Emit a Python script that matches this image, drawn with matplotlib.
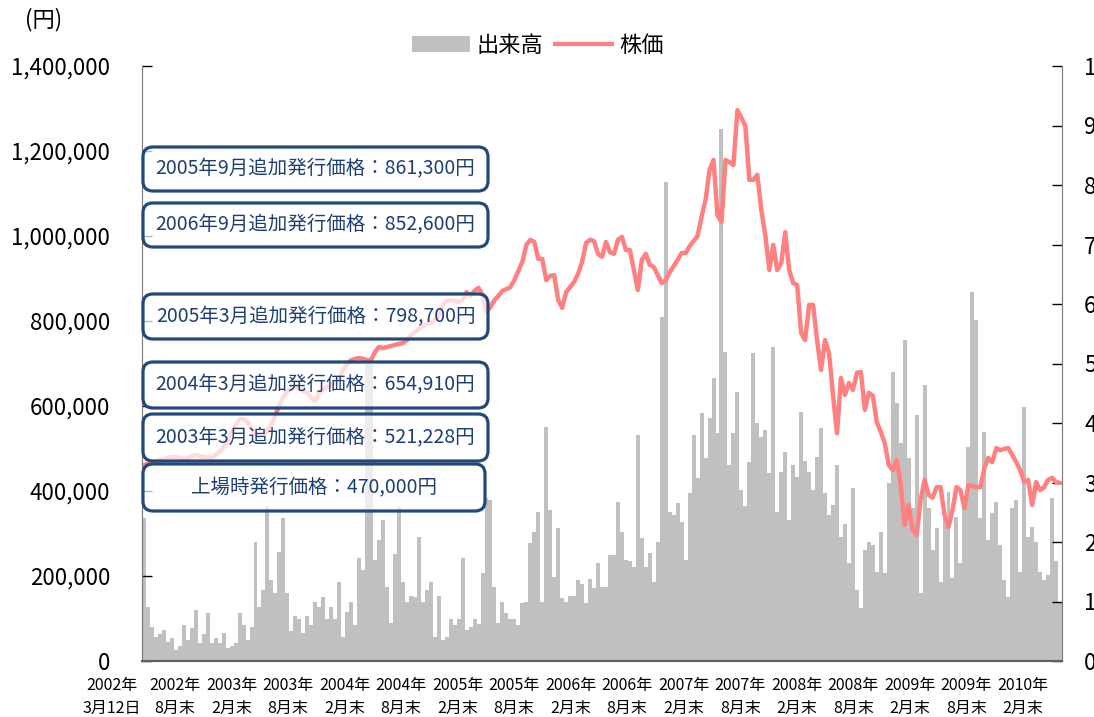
import numpy as np
import matplotlib
matplotlib.use('Agg')
import matplotlib.pyplot as plt
from matplotlib.patches import FancyBboxPatch, Patch
from matplotlib.lines import Line2D
from matplotlib.ticker import FuncFormatter
from matplotlib.transforms import blended_transform_factory

plt.rcParams['font.family'] = ['Noto Sans CJK JP', 'DejaVu Sans']

# Weekly-sampled volume (right axis, 0-10)
volume = [
    2.4, 0.9, 0.57, 0.4, 0.45, 0.52, 0.32, 0.38, 0.18, 0.25,
    0.6, 0.35, 0.55, 0.85, 0.3, 0.45, 0.8, 0.3, 0.38, 0.3,
    0.47, 0.22, 0.25, 0.3, 0.8, 0.6, 0.35, 0.57, 2.0, 0.9,
    1.2, 2.6, 1.36, 1.14, 1.84, 2.4, 1.14, 0.5, 0.75, 0.7,
    0.47, 0.75, 0.6, 1.0, 0.9, 1.08, 0.7, 0.9, 0.7, 1.33,
    0.4, 0.82, 1.0, 0.6, 1.73, 1.53, 5.0, 5.0, 1.7, 2.03,
    2.37, 1.25, 0.64, 1.8, 2.6, 1.33, 1.0, 1.1, 1.08, 2.08,
    1.0, 1.2, 1.33, 0.4, 1.1, 0.35, 0.4, 0.7, 0.6, 0.7,
    1.73, 0.52, 0.57, 0.7, 0.62, 1.48, 2.74, 2.7, 1.25, 0.64,
    1.0, 0.8, 0.7, 0.7, 0.6, 0.97, 1.0, 1.98, 2.17, 2.5,
    1.0, 3.93, 2.53, 1.41, 2.24, 1.06, 1.0, 1.1, 1.1, 1.36,
    1.3, 0.97, 1.38, 1.23, 1.65, 1.25, 1.25, 1.78, 1.78, 2.67,
    2.17, 1.7, 1.68, 1.58, 3.8, 2.07, 1.58, 1.81, 1.33, 2.0,
    5.78, 8.05, 2.5, 2.45, 2.65, 2.33, 1.7, 2.82, 3.8, 3.08,
    4.17, 3.41, 4.08, 4.76, 3.83, 8.94, 5.19, 3.3, 3.83, 4.52,
    2.87, 2.6, 3.35, 5.18, 4.0, 3.77, 3.88, 3.16, 5.28, 2.5,
    3.18, 3.51, 2.37, 3.3, 3.09, 4.18, 3.36, 3.18, 2.87, 3.43,
    3.92, 2.82, 2.45, 2.62, 3.3, 2.08, 2.31, 1.65, 2.91, 1.2,
    0.89, 1.87, 2.0, 1.95, 1.5, 2.17, 1.48, 3.0, 4.86, 4.34,
    3.66, 5.4, 3.41, 2.57, 4.13, 1.14, 4.64, 2.57, 1.87, 2.24,
    1.33, 2.4, 2.84, 1.39, 2.42, 1.65, 2.57, 3.6, 6.2, 5.73,
    2.4, 3.85, 2.03, 2.49, 2.67, 1.95, 1.36, 1.08, 2.57, 2.7,
    1.5, 4.27, 2.08, 2.25, 2.0, 1.5, 1.36, 1.45, 2.74, 1.68,
    1.0,
]

# Weekly-sampled share price (thousand yen, left axis)
price_k = [
    461, 464, 468, 471, 473, 475, 478, 480, 480, 478,
    475, 478, 482, 485, 482, 480, 480, 478, 485, 492,
    504, 518, 539, 555, 569, 569, 562, 548, 534, 529,
    532, 541, 558, 579, 602, 621, 635, 642, 645, 640,
    635, 631, 619, 612, 631, 640, 645, 649, 654, 664,
    685, 699, 708, 711, 713, 711, 708, 708, 727, 739,
    736, 739, 741, 744, 746, 748, 755, 767, 774, 781,
    788, 793, 795, 802, 812, 838, 847, 849, 847, 845,
    849, 868, 859, 871, 878, 861, 821, 833, 849, 859,
    871, 875, 880, 896, 918, 939, 979, 991, 986, 946,
    946, 896, 906, 908, 849, 831, 868, 880, 892, 911,
    939, 984, 991, 988, 958, 951, 986, 962, 958, 991,
    998, 967, 967, 920, 873, 944, 958, 932, 927, 908,
    889, 896, 915, 929, 944, 960, 960, 976, 988, 1000,
    1045, 1085, 1155, 1179, 1049, 1033, 1179, 1174, 1167, 1296,
    1278, 1259, 1132, 1132, 1144, 1061, 1002, 920, 979, 920,
    936, 1009, 920, 889, 885, 772, 755, 838, 838, 755,
    685, 755, 725, 626, 536, 666, 626, 654, 638, 678,
    680, 591, 631, 624, 562, 539, 513, 461, 449, 473,
    414, 320, 367, 308, 296, 379, 426, 391, 384, 409,
    409, 344, 315, 355, 409, 402, 360, 414, 412, 409,
    409, 454, 478, 468, 501, 496, 499, 501, 485, 468,
    449, 421, 426, 367, 421, 402, 409, 426, 431, 421,
    419,
]

x_labels = ['2002年\n3月12日', '2002年\n8月末', '2003年\n2月末', '2003年\n8月末',
            '2004年\n2月末', '2004年\n8月末', '2005年\n2月末', '2005年\n8月末',
            '2006年\n2月末', '2006年\n8月末', '2007年\n2月末', '2007年\n8月末',
            '2008年\n2月末', '2008年\n8月末', '2009年\n2月末', '2009年\n8月末',
            '2010年\n2月末']

notes = ['2005年9月追加発行価格：861,300円',
         '2006年9月追加発行価格：852,600円',
         '2005年3月追加発行価格：798,700円',
         '2004年3月追加発行価格：654,910円',
         '2003年3月追加発行価格：521,228円',
         '上場時発行価格：470,000円']

W, H = 1094, 717
fig = plt.figure(figsize=(W / 100, H / 100), dpi=100)
ax_v = fig.add_axes([142 / W, 56 / H, 920 / W, 595 / H])
ax_p = ax_v.twinx()

n = len(volume)
xv = np.arange(n)
xp = np.arange(len(price_k))
price = np.array(price_k) * 1000

ax_v.bar(xv, volume, width=1.0, color='#C0C0C0', linewidth=0, align='center')
ax_p.plot(xp, price, color='#FF8080', lw=3.2, solid_joinstyle='round', solid_capstyle='round')

ax_v.set_xlim(-0.5, n - 0.5)
ax_v.set_ylim(0, 10)
ax_p.set_ylim(0, 1400000)

ax_v.yaxis.tick_right()
ax_v.set_yticks(range(11))
ax_v.set_yticklabels([str(i) for i in range(11)])
ax_p.yaxis.tick_left()
ax_p.set_yticks(range(0, 1400001, 200000))
ax_p.yaxis.set_major_formatter(FuncFormatter(lambda v, p: f'{v:,.0f}'))

ax_v.tick_params(axis='y', direction='in', length=7, width=1, labelsize=16, pad=16, colors='black')
ax_p.tick_params(axis='y', direction='in', length=7, width=1, labelsize=16, pad=23, colors='black')
ax_v.set_xticks([])
ax_p.set_xticks([])

for a in (ax_v, ax_p):
    a.spines['top'].set_visible(False)
    a.spines['left'].set_color('#808080')
    a.spines['right'].set_color('#808080')
    a.spines['bottom'].set_color('#606060')
    a.spines['bottom'].set_linewidth(1.5)

# x labels
trans = blended_transform_factory(ax_v.transData, ax_v.transAxes)
label_pos = [-8.0] + [7.8 + 14.19 * k for k in range(16)]
for pos, lab in zip(label_pos, x_labels):
    ax_p.text(pos, -16 / 595, lab, transform=trans, ha='center', va='top',
              fontsize=11.5, linespacing=1.45, clip_on=False)

# annotation boxes
tops = [147, 203, 294, 362, 414, 464]
bots = [191, 247, 339, 408, 461, 511]
for i, (t, b, s) in enumerate(zip(tops, bots, notes)):
    x0 = 143
    x1 = 488 if i < 5 else 485
    patch = FancyBboxPatch((x0 / W, 1 - b / H), (x1 - x0) / W, (b - t) / H,
                           boxstyle='round,pad=0,rounding_size=0.009',
                           mutation_aspect=W / H, transform=fig.transFigure,
                           facecolor=(1, 1, 1, 0.72), edgecolor='#23487A',
                           linewidth=2.3, zorder=5)
    fig.add_artist(patch)
    fig.text((x0 + x1) / 2 / W, 1 - (t + b) / 2 / H, s, ha='center', va='center',
             color='#1F3F73', fontsize=14, zorder=6)

# legend
handles = [Patch(facecolor='#C0C0C0', edgecolor='none', label='出来高'),
           Line2D([], [], color='#FF8080', lw=3, label='株価')]
fig.legend(handles=handles, loc='center', bbox_to_anchor=(538 / W, 1 - 45 / H), ncol=2,
           frameon=False, fontsize=16, handlelength=2.6, handleheight=0.75,
           handletextpad=0.3, columnspacing=0.5)

fig.text(44 / W, 1 - 20 / H, '(円)', ha='center', va='center', fontsize=16)

fig.savefig('out.png', dpi=100)
